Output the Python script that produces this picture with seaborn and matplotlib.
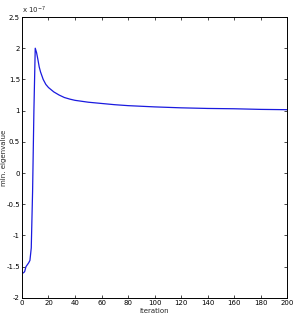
import matplotlib
matplotlib.use("Agg")
import matplotlib.pyplot as plt
import seaborn as sns
import pandas as pd

iterations = [1, 2, 3, 4, 5, 6, 7, 8, 9, 10, 11, 12, 13, 14, 16, 18, 20, 24, 28, 32, 36, 40,
              45, 50, 60, 70, 80, 90, 100, 120, 140, 160, 180, 200]
min_eig = [-1.6, -1.58, -1.5, -1.47, -1.44, -1.4, -1.2, -0.3, 1.0, 2.0, 1.93, 1.82, 1.7, 1.62,
           1.5, 1.42, 1.37, 1.3, 1.25, 1.21, 1.185, 1.165, 1.15, 1.135, 1.115, 1.095, 1.08,
           1.07, 1.06, 1.045, 1.035, 1.03, 1.02, 1.015]
x_ticks = [0, 20, 40, 60, 80, 100, 120, 140, 160, 180, 200]
y_ticks = [-2, -1.5, -1, -0.5, 0, 0.5, 1, 1.5, 2, 2.5]
y_tick_labels = ["-2", "-1.5", "-1", "-0.5", "0", "0.5", "1", "1.5", "2", "2.5"]

sns.set_style("white")
plt.rcParams["font.family"] = ["DejaVu Sans"]

df = pd.DataFrame({"iteration": iterations, "value": min_eig})

fig = plt.figure(figsize=(2.93, 3.27), dpi=100)
ax = fig.add_axes([0.075, 0.089, 0.905, 0.859])
sns.lineplot(data=df, x="iteration", y="value", ax=ax, color="#1a1adf", linewidth=0.9)

ax.set_xlim(0, 200)
ax.set_ylim(-2, 2.5)
ax.set_xticks(x_ticks)
ax.set_yticks(y_ticks)
ax.set_yticklabels(y_tick_labels)
ax.tick_params(direction="in", length=2.5, width=0.5, labelsize=5, pad=1.5,
               top=True, right=True, bottom=True, left=True, colors="black")
for s in ax.spines.values():
    s.set_linewidth(0.7)
    s.set_color("black")
ax.set_xlabel("iteration", fontsize=5, labelpad=1.5)
ax.set_ylabel("min. eigenvalue", fontsize=5)
ax.yaxis.set_label_coords(-0.058, 0.5)
ax.text(0.0, 1.004, r"x 10$^{-7}$", transform=ax.transAxes, fontsize=5, ha="left", va="bottom")

fig.savefig("out.png", dpi=100)
